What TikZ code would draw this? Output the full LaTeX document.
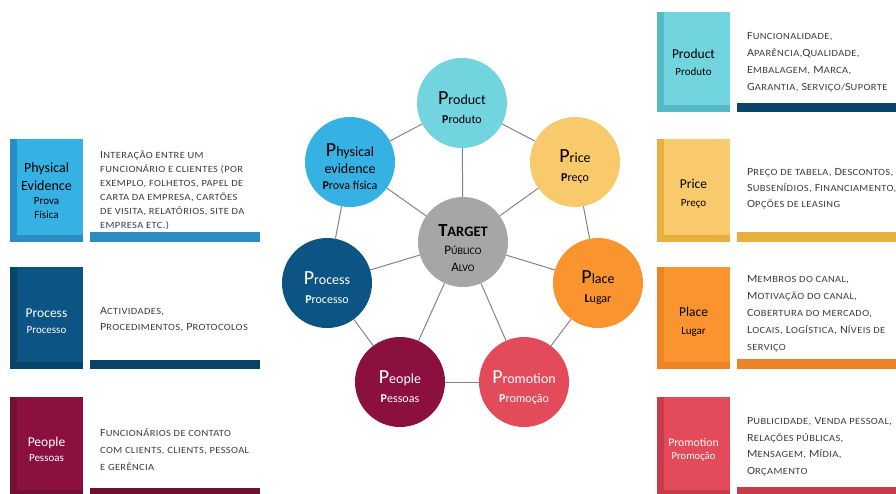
\documentclass[tikz,border=0pt]{standalone}
\usepackage{fontspec}
\setmainfont{Carlito}
\definecolor{cProd}{HTML}{72D4DF}
\definecolor{cProdD}{HTML}{56B8C4}
\definecolor{cPhys}{HTML}{35B1E3}
\definecolor{cPhysD}{HTML}{2A8EC3}
\definecolor{cPrice}{HTML}{F9CA6B}
\definecolor{cPriceD}{HTML}{E8AE3E}
\definecolor{cPlace}{HTML}{F9942F}
\definecolor{cPlaceD}{HTML}{EC8426}
\definecolor{cPromo}{HTML}{E34B5B}
\definecolor{cPromoD}{HTML}{C93B4B}
\definecolor{cPeople}{HTML}{8C103F}
\definecolor{cPeopleD}{HTML}{701033}
\definecolor{cProc}{HTML}{0B5483}
\definecolor{cProcD}{HTML}{084468}
\definecolor{cNavy}{HTML}{0A4468}
\definecolor{cTarget}{HTML}{A6A6A6}
\definecolor{cLine}{HTML}{858585}
\definecolor{cText}{HTML}{3C3C3C}
% title inside a circle: large initial, then the rest (the rule lowers the block a little)
\newcommand\ctitle[2]{\rule{0pt}{23pt}{\fontsize{20}{20}\selectfont #1}{\fontsize{14}{14}\selectfont #2}}
% subtitle inside a circle: bold initial
\newcommand\csub[2]{{\fontsize{12}{12}\selectfont\textbf{#1}#2}}
\newcommand\tsmall[1]{{\fontsize{11}{11}\selectfont #1}}
% small capitals built from upper case letters at a smaller size
\newcommand\lc[1]{{\fontsize{9.5}{9.5}\selectfont\MakeUppercase{#1}}}
\begin{document}
\begin{tikzpicture}[x=1pt,y=-1pt,
  ring/.style={circle, minimum size=90, inner sep=0pt, align=center,
    font=\fontsize{14}{19}\selectfont},
  link/.style={draw=cLine, line width=1pt},
  desc/.style={anchor=west, align=left, inner sep=0pt, text=cText,
    font=\fontsize{11}{16.5}\selectfont\addfontfeatures{FakeStretch=1.1,LetterSpace=4}},
  card/.style 2 args={fill=#1, inner sep=0pt, align=center, minimum width=73,
    font=\fontsize{13.5}{16}\selectfont,
    path picture={\fill[#2] ([xshift=7pt]path picture bounding box.north west)
      rectangle ([yshift=7pt]path picture bounding box.south east);}},
]
\useasboundingbox (0,0) rectangle (896,493);

% ---- the seven Ps around the target ----
\node[ring, fill=cTarget] (tgt) at (463,242) {%
  \rule{0pt}{24pt}\textbf{{\fontsize{18.5}{18.5}\selectfont T}{\fontsize{14.5}{14.5}\selectfont ARGET}}\\[-1pt]
  {\fontsize{13}{13}\selectfont P}{\fontsize{10}{10}\selectfont ÚBLICO}\\[-2pt]
  {\fontsize{13}{13}\selectfont A}{\fontsize{10}{10}\selectfont LVO}};
\node[ring, fill=cProd] (prod) at (462,103) {\ctitle{P}{roduct}\\\csub{P}{roduto}};
\node[ring, fill=cPhys, font=\fontsize{14}{17}\selectfont] (phys) at (350,162)
  {\ctitle{P}{hysical}\\evidence\\[-1pt]\csub{P}{rova física}};
\node[ring, fill=cPrice] (price) at (575,162) {\ctitle{P}{rice}\\\csub{P}{reço}};
\node[ring, fill=cProc, text=white] (proc) at (327,283) {\ctitle{P}{rocess}\\\csub{P}{rocesso}};
\node[ring, fill=cPlace] (place) at (598,283) {\ctitle{P}{lace}\\\csub{L}{ugar}};
\node[ring, fill=cPeople, text=white] (people) at (400,382) {\ctitle{P}{eople}\\\csub{P}{essoas}};
\node[ring, fill=cPromo, text=white] (promo) at (524,382) {\ctitle{P}{romotion}\\\csub{P}{romoção}};

% spokes from the target
\foreach \n in {prod,phys,price,proc,place,people,promo}
  \draw[link] (tgt) -- (\n);
% outer ring
\draw[link] (prod) -- (price);
\draw[link] (price) -- (place);
\draw[link] (place) -- (promo);
\draw[link] (promo) -- (people);
\draw[link] (people) -- (proc);
\draw[link] (proc) -- (phys);
\draw[link] (phys) -- (prod);

% ---- left column ----
\node[card={cPhysD}{cPhys}, minimum height=103, font=\fontsize{14}{14}\selectfont] (physbox) at (46.5,190.5)
  {Physical\\[4pt]Evidence\\\tsmall{Prova}\\\tsmall{Física}};
\fill[cPhysD] (90,232) rectangle (260,242);
\node[desc, font=\fontsize{11}{14}\selectfont\addfontfeatures{FakeStretch=1.1,LetterSpace=4}] (phystxt) at (100,190)
  {I\lc{nteração entre um}\\
   \lc{funcionário e clientes (por}\\
   \lc{exemplo, folhetos, papel de}\\
   \lc{carta da empresa, cartões}\\
   \lc{de visita, relatórios, site da}\\
   \lc{empresa etc.)}};

\node[card={cProcD}{cProc}, text=white, minimum height=102] (procbox) at (46.5,318)
  {\rule{0pt}{15pt}Process\\\tsmall{Processo}};
\fill[cProcD] (90,360) rectangle (260,369);
\node[desc, font=\fontsize{11}{16}\selectfont\addfontfeatures{FakeStretch=1.1,LetterSpace=4}] (proctxt) at (100,320)
  {A\lc{ctividades,}\\ P\lc{rocedimentos,} P\lc{rotocolos}};

\node[card={cPeopleD}{cPeople}, text=white, minimum height=100, font=\fontsize{13.5}{15}\selectfont] (peoplebox) at (46.5,447)
  {\rule{0pt}{14pt}People\\\tsmall{Pessoas}};
\fill[cPeopleD] (90,488) rectangle (260,497);
\node[desc, font=\fontsize{11}{17}\selectfont\addfontfeatures{FakeStretch=1.1,LetterSpace=4}] (peopletxt) at (100,450)
  {F\lc{uncionários de contato}\\ \lc{com clients, clients, pessoal}\\ \lc{e gerência}};

% ---- right column ----
\node[card={cProdD}{cProd}, minimum height=100] (prodbox) at (693.5,62)
  {Product\\[1pt]\tsmall{Produto}};
\fill[cNavy] (737,103) rectangle (896,112);
\node[desc, font=\fontsize{11}{17}\selectfont\addfontfeatures{FakeStretch=1.1,LetterSpace=4}] (prodtxt) at (747,62.5)
  {F\lc{uncionalidade,}\\ A\lc{parência,}Q\lc{ualidade,}\\ E\lc{mbalagem,} M\lc{arca,}\\
   G\lc{arantia,} S\lc{erviço/}S\lc{uporte}};

\node[card={cPriceD}{cPrice}, minimum height=103, font=\fontsize{13.5}{18}\selectfont] (pricebox) at (693.5,190.5)
  {\rule{0pt}{15pt}Price\\\tsmall{Preço}};
\fill[cPriceD] (737,232) rectangle (896,242);
\node[desc, font=\fontsize{11}{16}\selectfont\addfontfeatures{FakeStretch=1.1,LetterSpace=4}] (pricetxt) at (747,189)
  {P\lc{reço de tabela,} D\lc{escontos,}\\ S\lc{ubsenídios,} F\lc{inanciamento,}\\ O\lc{pções de leasing}};

\node[card={cPlaceD}{cPlace}, minimum height=102, font=\fontsize{13.5}{18}\selectfont] (placebox) at (693.5,318)
  {\rule{0pt}{17pt}Place\\\tsmall{Lugar}};
\fill[cPlaceD] (737,359) rectangle (896,369);
\node[desc, font=\fontsize{11}{17}\selectfont\addfontfeatures{FakeStretch=1.1,LetterSpace=4}] (placetxt) at (747,314)
  {M\lc{embros do canal,}\\ M\lc{otivação do canal,}\\ C\lc{obertura do mercado,}\\
   L\lc{ocais,} L\lc{ogística,} N\lc{íveis de}\\ \lc{serviço}};

\node[card={cPromoD}{cPromo}, text=white, minimum height=100, font=\fontsize{11.7}{13}\selectfont] (promobox) at (693.5,447)
  {\rule{0pt}{14pt}Promotion\\{\fontsize{10.6}{10.6}\selectfont Promoção}};
\fill[cPromoD] (737,487) rectangle (896,497);
\node[desc, font=\fontsize{11}{16.5}\selectfont\addfontfeatures{FakeStretch=1.1,LetterSpace=4}] (promotxt) at (747,447)
  {P\lc{ublicidade,} V\lc{enda pessoal,}\\ R\lc{elações públicas,}\\ M\lc{ensagem,} M\lc{ídia,}\\ O\lc{rçamento}};
\end{tikzpicture}
\end{document}
